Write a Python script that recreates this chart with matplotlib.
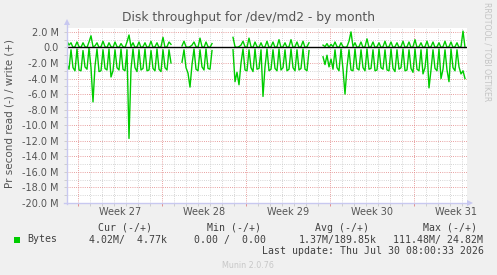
import numpy as np
import matplotlib
matplotlib.use('Agg')
import matplotlib.pyplot as plt
from matplotlib.lines import Line2D
from matplotlib.patches import Polygon, Rectangle
from matplotlib.ticker import MultipleLocator, FixedLocator
from matplotlib.transforms import blended_transform_factory

# ---------------- data (values in MB/s, 4-hour samples) ----------------
# time axis in days, 0 = start of Week 27
seg_starts = [-0.917, 8.667, 12.917, 20.417]
step_days = 1 / 6

read_a = [2.2, 2.8, 0.3, 2.6, 3.0, 0.2, 2.9, 3.0, 0.4, 2.5,
          2.8, 0.1, 2.6, 7.0, 2.4, 0.2, 3.1, 3.0, 0.3, 2.7,
          2.9, 0.2, 3.8, 3.0, 0.3, 2.6, 2.9, 0.2, 2.8, 3.0,
          0.3, 11.7, 2.8, 0.2, 2.6, 3.1, 0.3, 2.9, 2.7, 0.2,
          3.0, 2.9, 0.4, 2.7, 3.0, 0.2, 2.8, 3.1, 0.3, 2.6,
          2.9, 0.3, 2.0]
write_a = [0.8, 0.3, 0.6, 0.0, 0.1, 0.7, 0.1, 0.0, 0.6, 0.1,
           0.0, 0.7, 1.5, 0.1, 0.2, 0.6, 0.0, 0.1, 0.8, 0.1,
           0.0, 0.6, 0.1, 0.0, 0.7, 0.1, 0.0, 0.5, 0.1, 0.0,
           0.7, 1.6, 0.1, 0.6, 0.0, 0.1, 0.7, 0.0, 0.1, 0.6,
           0.0, 0.1, 0.8, 0.0, 0.1, 0.6, 0.0, 0.1, 1.3, 0.0,
           0.1, 0.7, 0.4]
read_b = [1.9, 0.3, 2.6, 3.3, 5.1, 2.2, 0.2, 2.8, 3.0, 0.3,
          2.5, 2.9, 0.2, 2.7, 2.8, 0.4]
write_b = [0.2, 0.8, 0.1, 0.0, 0.1, 0.3, 0.7, 0.1, 0.0, 1.2,
           0.1, 0.0, 0.7, 0.1, 0.0, 0.5]
read_c = [0.3, 4.4, 3.2, 4.8, 2.0, 0.2, 2.9, 3.0, 0.3, 2.6,
          3.1, 0.2, 2.8, 2.7, 0.3, 6.3, 2.5, 0.2, 3.0, 2.8,
          0.3, 2.7, 3.0, 0.2, 2.9, 2.6, 0.3, 3.0, 2.8, 0.2,
          2.6, 3.0, 0.3, 2.9, 2.7, 0.2, 2.8, 3.0, 0.4]
write_c = [1.3, 0.1, 0.0, 0.1, 0.3, 0.8, 0.1, 0.0, 1.2, 0.1,
           0.0, 0.7, 0.1, 0.0, 0.6, 0.0, 0.1, 0.8, 0.0, 0.1,
           0.7, 0.0, 0.1, 1.0, 0.0, 0.1, 0.6, 0.0, 0.1, 1.0,
           0.0, 0.1, 0.7, 0.0, 0.1, 0.8, 0.0, 0.1, 0.6]
read_d = [1.2, 2.2, 1.0, 2.5, 1.5, 2.8, 0.3, 2.6, 3.0, 0.2,
          2.8, 6.0, 2.5, 0.3, 2.9, 3.0, 0.2, 2.7, 2.9, 0.3,
          2.6, 3.0, 0.2, 2.8, 2.7, 0.3, 3.0, 2.9, 0.2, 2.6,
          2.8, 0.3, 2.9, 3.0, 0.2, 2.7, 3.1, 0.3, 2.8, 2.6,
          0.2, 3.0, 2.9, 0.3, 2.7, 3.2, 0.2, 2.8, 3.0, 0.3,
          3.4, 2.6, 0.2, 5.2, 2.9, 0.3, 2.7, 3.0, 0.2, 4.0,
          2.8, 0.3, 2.9, 4.4, 0.2, 2.6, 3.0, 0.3, 2.5, 3.4,
          3.0, 4.0]
write_d = [0.3, 0.1, 0.5, 0.0, 0.4, 0.1, 0.7, 0.1, 0.0, 0.6,
           0.1, 0.0, 0.1, 0.8, 2.0, 0.1, 0.6, 0.0, 0.1, 0.7,
           0.0, 0.1, 1.1, 0.0, 0.1, 0.7, 0.0, 0.1, 0.6, 0.0,
           0.1, 0.8, 0.0, 0.1, 0.7, 0.0, 0.1, 0.6, 0.0, 0.1,
           0.8, 0.0, 0.1, 0.7, 0.0, 0.1, 1.0, 0.0, 0.1, 0.6,
           0.0, 0.1, 0.8, 0.0, 0.1, 0.7, 0.0, 0.1, 0.6, 0.0,
           0.1, 0.8, 0.0, 0.1, 0.7, 0.0, 0.1, 0.6, 0.0, 0.1,
           2.1, 0.0]

read_segs = [read_a, read_b, read_c, read_d]
write_segs = [write_a, write_b, write_c, write_d]

week_labels = ['Week 27', 'Week 28', 'Week 29', 'Week 30', 'Week 31']
week_starts = [0, 7, 14, 21, 28]
y_ticks = [2, 0, -2, -4, -6, -8, -10, -12, -14, -16, -18, -20]
y_labels = ['2.0 M', '0.0', '-2.0 M', '-4.0 M', '-6.0 M', '-8.0 M', '-10.0 M',
            '-12.0 M', '-14.0 M', '-16.0 M', '-18.0 M', '-20.0 M']

title = 'Disk throughput for /dev/md2 - by month'
ylabel = 'Pr second read (-) / write (+)'
legend_headers = ['Cur (-/+)', 'Min (-/+)', 'Avg (-/+)', 'Max (-/+)']
legend_values = ['4.02M/  4.77k', '0.00 /  0.00', '1.37M/189.85k', '111.48M/ 24.82M']
series_name = 'Bytes'
last_update = 'Last update: Thu Jul 30 08:00:33 2026'

# ---------------- figure ----------------
W, H = 497, 275
BG = '#f0f0f0'
GREEN = '#00cc00'
TXT = '#555555'
fig = plt.figure(figsize=(W / 100, H / 100), dpi=100, facecolor=BG)


def fx(px):
    return px / W


def fy(py):
    return 1 - py / H


L, R, T, B = 67, 467, 28, 203
ax = fig.add_axes([fx(L), fy(B), fx(R) - fx(L), fy(T) - fy(B)])
ax.set_facecolor('white')
x0, x1 = -0.917, 32.417
ax.set_xlim(x0, x1)
ax.set_ylim(-20, 2.5)

for s in ax.spines.values():
    s.set_visible(False)

# grids
ax.xaxis.set_major_locator(FixedLocator(week_starts))
ax.xaxis.set_minor_locator(MultipleLocator(1))
ax.yaxis.set_major_locator(FixedLocator(y_ticks))
ax.yaxis.set_minor_locator(MultipleLocator(1))
dot = (0, (1, 1.6))
ax.grid(which='minor', color='#c8c8c8', linestyle=dot, linewidth=0.6)
ax.grid(which='major', color='#e08080', linestyle=dot, linewidth=0.6)
ax.set_axisbelow(True)

ax.set_yticklabels(y_labels)
ax.set_xticklabels([''] * len(week_starts))
ax.tick_params(axis='y', which='both', length=2, width=0.6, color='#c8c8c8',
               labelsize=7, labelcolor=TXT, pad=4)
ax.tick_params(axis='x', which='both', length=2, width=0.6, color='#c8c8c8')
ax.tick_params(axis='x', which='major', color='#e08080')

wtrans = blended_transform_factory(ax.transData, fig.transFigure)
for wl, ws in zip(week_labels, week_starts):
    ax.text(ws + 3.5, fy(212), wl, transform=wtrans,
            ha='center', va='center', fontsize=7, color=TXT)

# data
for st, rd, wr in zip(seg_starts, read_segs, write_segs):
    t = st + np.arange(len(rd)) * step_days
    ax.plot(t, -np.array(rd), color=GREEN, lw=1.0)
    t2 = st + np.arange(len(wr)) * step_days
    ax.plot(t2, np.array(wr), color=GREEN, lw=1.0)

ax.axhline(0, color='black', lw=1.0, zorder=5)

# axis lines with arrows
AX = '#c8c8f0'
fig.add_artist(Line2D([fx(L), fx(L)], [fy(B + 1), fy(24)], color=AX, lw=1))
fig.add_artist(Line2D([fx(L - 3), fx(468)], [fy(B), fy(B)], color=AX, lw=1))
fig.add_artist(Polygon([[fx(L - 3), fy(25)], [fx(L + 3), fy(25)], [fx(L), fy(19)]],
                       closed=True, color=AX, lw=0))
fig.add_artist(Polygon([[fx(467), fy(B - 3)], [fx(467), fy(B + 3)], [fx(473), fy(B)]],
                       closed=True, color=AX, lw=0))

# texts
fig.text(fx(248), fy(18), title, ha='center', va='center', fontsize=8.8, color=TXT)
fig.text(fx(10), fy(113), ylabel, ha='center', va='center', rotation=90,
         fontsize=7.5, color=TXT)
fig.text(fx(487), fy(52), 'RRDTOOL / TOBI OETIKER', ha='center', va='center',
         rotation=270, fontsize=5.6, color='#c4c4c4')

mono = dict(family='DejaVu Sans Mono', fontsize=7.1, color='#404040', va='center', ha='left')
for hx, hdr in zip([98, 207, 315, 423], legend_headers):
    fig.text(fx(hx), fy(228), hdr, **mono)
for vx, val in zip([89, 194, 299, 393], legend_values):
    fig.text(fx(vx), fy(239.5), val, **mono)
fig.text(fx(27), fy(239.5), series_name, **mono)
fig.add_artist(Rectangle((fx(14), fy(242.5)), fx(6), fy(236.5) - fy(242.5),
                         color=GREEN, lw=0))
fig.text(fx(262), fy(251.5), last_update, **mono)
fig.text(fx(248), fy(265), 'Munin 2.0.76', ha='center', va='center',
         fontsize=5.8, color='#c8c8c8')

fig.savefig('out.png', dpi=100, facecolor=BG)
